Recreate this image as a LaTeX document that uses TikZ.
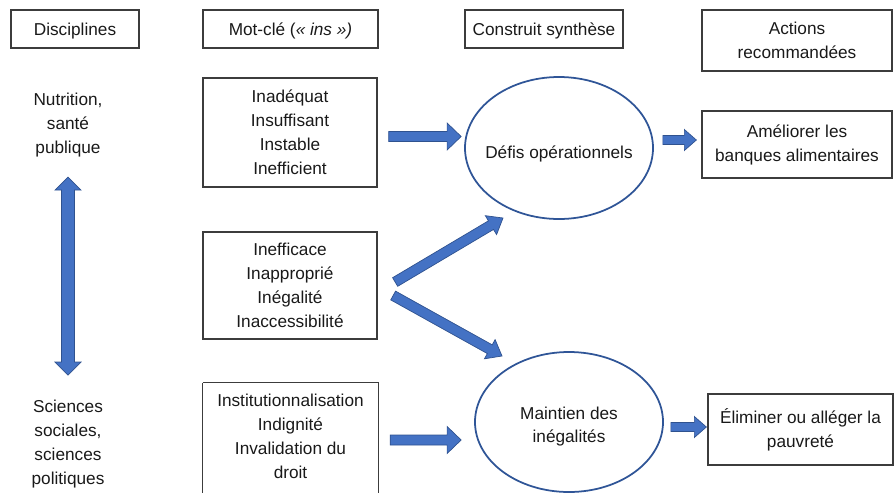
\documentclass[tikz,border=0pt]{standalone}
\usepackage{fontspec}
\setmainfont{Liberation Sans}
\usetikzlibrary{calc,shapes.geometric}
\definecolor{arrowblue}{RGB}{68,114,196}
\definecolor{arrowline}{RGB}{47,82,143}
\definecolor{ellline}{RGB}{47,85,151}
\definecolor{boxline}{RGB}{60,60,60}
\newcommand\upx{0.03cm}
% block arrow: #1 start, #2 tip, #3 shaft half width, #4 head half width, #5 head length
\newcommand\blockarrow[5]{%
  \coordinate (ba-h) at ($(#2)!#5!(#1)$);
  \filldraw[barrow] ($(#1)!#3!90:(#2)$) -- ($(ba-h)!#3!90:(#2)$) -- ($(ba-h)!#4!90:(#2)$) -- (#2)
    -- ($(ba-h)!#4!-90:(#2)$) -- ($(ba-h)!#3!-90:(#2)$) -- ($(#1)!#3!-90:(#2)$) -- cycle;}
% double block arrow: #1 tip A, #2 tip B, #3 shaft half width, #4 head half width, #5 head length
\newcommand\blockdarrow[5]{%
  \coordinate (bd-a) at ($(#1)!#5!(#2)$);
  \coordinate (bd-b) at ($(#2)!#5!(#1)$);
  \filldraw[barrow] (#1) -- ($(bd-a)!#4!90:(#2)$) -- ($(bd-a)!#3!90:(#2)$) -- ($(bd-b)!#3!90:(#2)$)
    -- ($(bd-b)!#4!90:(#2)$) -- (#2) -- ($(bd-b)!#4!-90:(#2)$) -- ($(bd-b)!#3!-90:(#2)$)
    -- ($(bd-a)!#3!-90:(#2)$) -- ($(bd-a)!#4!-90:(#2)$) -- cycle;}
\tikzset{
  every node/.style={font=\fontsize{14.7pt}{20.4pt}\selectfont, align=center, text=black!90},
  boxed/.style={draw=boxline, line width=1.1pt, inner sep=0pt},
  hdr/.style={boxed, text height=10.5pt, text depth=0pt},
  txt/.style={inner sep=0pt},
  ell/.style={draw=ellline, line width=1.5pt, ellipse, inner sep=0pt},
  barrow/.style={fill=arrowblue, draw=arrowline, line width=0.6pt, line join=miter},
}
\begin{document}
\begin{tikzpicture}[x=0.03cm, y=-0.03cm]
\useasboundingbox (0,0) rectangle (894,492);
\begin{scope}
\clip (0,0) rectangle (894,492);
% headers
\node[hdr, minimum width=128*\upx, minimum height=38*\upx] (disc) at (75,29) {Disciplines};
\node[hdr, minimum width=175*\upx, minimum height=38*\upx] (mot) at (290.5,29) {Mot-clé (\textit{«~ins~»)}};
\node[hdr, minimum width=158*\upx, minimum height=38*\upx] (cons) at (544,29) {Construit synthèse};
\node[boxed, minimum width=190*\upx, minimum height=61*\upx] (act) at (797,40.5) {Actions\\recommandées};
% disciplines
\node[txt] (nut) at (68,125) {Nutrition,\\santé\\publique};
\node[txt] (sci) at (68,444) {Sciences\\sociales,\\sciences\\politiques};
% keyword boxes
\node[boxed, minimum width=174*\upx, minimum height=109*\upx] (box1) at (290,132.5) {Inadéquat\\Insuffisant\\Instable\\Inefficient};
\node[boxed, minimum width=174*\upx, minimum height=107*\upx] (box2) at (290,285.5) {Inefficace\\Inapproprié\\Inégalité\\Inaccessibilité};
\node[txt, minimum width=175*\upx, minimum height=106*\upx] (box3) at (290.5,436) {Institutionnalisation\\Indignité\\Invalidation du\\droit};
\draw[boxline, line width=1.1pt] (box3.north west) -- ($(box3.south west)+(0,20)$)
  ($(box3.north west)$) -- (box3.north east) -- ($(box3.south east)+(0,20)$);
% ellipses
\node[ell, minimum width=188*\upx, minimum height=142*\upx] (ell1) at (559,148) {};
\node[txt] (ell1t) at (559,154) {Défis opérationnels};
\node[ell, minimum width=188*\upx, minimum height=140*\upx] (ell2) at (569,422) {};
\node[txt] (ell2t) at (569,426.5) {Maintien des\\inégalités};
% actions
\node[boxed, minimum width=190*\upx, minimum height=67*\upx] (amel) at (797,144.5) {Améliorer les\\banques alimentaires};
\node[boxed, minimum width=185*\upx, minimum height=71*\upx] (elim) at (800.5,429.5) {Éliminer ou alléger la\\pauvreté};
% arrow end points
\coordinate (a1s) at ($(box1.east)+(11,4)$);
\coordinate (a1e) at ($(ell1.west)+(-3,-11.5)$);
\coordinate (a2s) at ($(ell1.east)+(9,-8)$);
\coordinate (a2e) at ($(amel.west)+(-5,-4.5)$);
\coordinate (a3s) at ($(box3.east)+(12,4)$);
\coordinate (a3e) at ($(ell2.west)+(-13,18)$);
\coordinate (a4s) at ($(ell2.east)+(7,5)$);
\coordinate (a4e) at ($(elim.west)+(-1,-2.5)$);
\coordinate (d1s) at ($(box2.east)+(17.5,-3.5)$);
\coordinate (d1e) at ($(ell1.center)+(-56,70)$);
\coordinate (d2s) at ($(box2.east)+(15.5,10)$);
\coordinate (d2e) at ($(ell2.center)+(-67,-66)$);
\coordinate (vA) at ($(nut.center)+(0,52)$);
\coordinate (vB) at ($(sci.center)+(0,-69)$);
% arrows
\blockarrow{a1s}{a1e}{0.15cm}{0.405cm}{0.42cm}
\blockarrow{a3s}{a3e}{0.15cm}{0.405cm}{0.42cm}
\blockarrow{a2s}{a2e}{0.135cm}{0.315cm}{0.36cm}
\blockarrow{a4s}{a4e}{0.135cm}{0.315cm}{0.36cm}
\blockarrow{d1s}{d1e}{0.15cm}{0.33cm}{0.42cm}
\blockarrow{d2s}{d2e}{0.15cm}{0.33cm}{0.42cm}
\blockdarrow{vA}{vB}{0.195cm}{0.39cm}{0.39cm}
\end{scope}
\end{tikzpicture}
\end{document}
